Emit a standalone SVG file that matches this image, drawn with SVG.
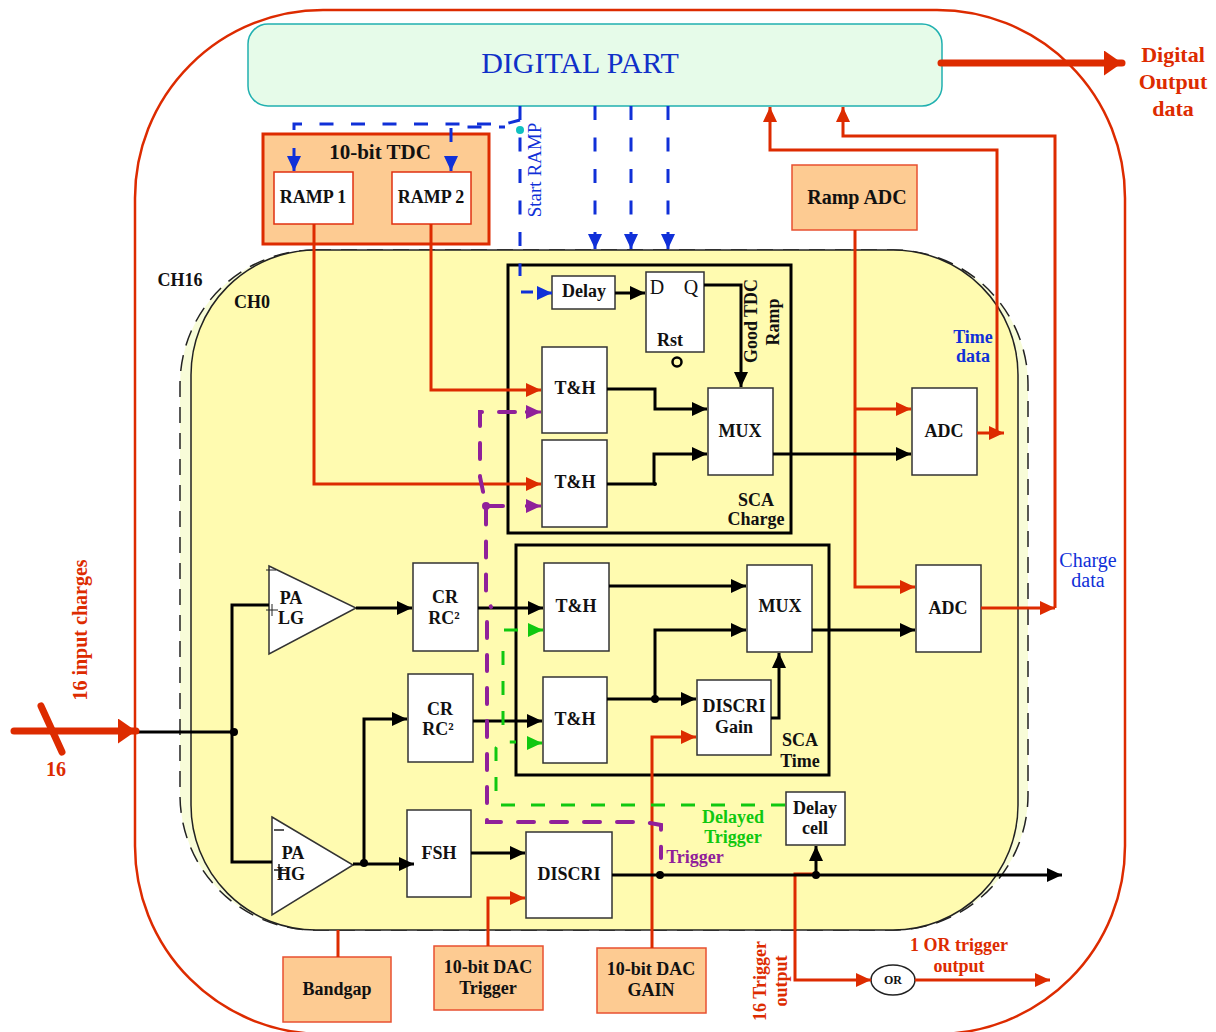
<svg xmlns="http://www.w3.org/2000/svg" width="1216" height="1032" viewBox="0 0 1216 1032">
<style>
text{font-family:"Liberation Serif","Times New Roman",serif;text-anchor:middle;fill:#111}
.b{font-weight:bold}
.n{font-size:18px;font-weight:bold}
.box{fill:#fff;stroke:#333;stroke-width:1.5}
.rbox{fill:#fff;stroke:#e03010;stroke-width:1.5}
.ora{fill:#fdcb92;stroke:#e85030;stroke-width:1.5}
.sca{fill:none;stroke:#000;stroke-width:3}
.c{fill:none;stroke-linejoin:miter}
.k{stroke:#000;stroke-width:3}
.r{stroke:#dd2b00;stroke-width:3}
.fat{stroke:#dd2b00;stroke-width:7;stroke-linecap:round}
.bl{stroke:#1030d8;stroke-width:3;stroke-dasharray:14 17.5}
.bh{stroke:#1030d8;stroke-width:3}
.p{stroke:#90209a;stroke-width:4;stroke-dasharray:16 17;stroke-linecap:round}
.ph{stroke:#90209a;stroke-width:3}
.g{stroke:#10c810;stroke-width:3;stroke-dasharray:14 16}
.gh{stroke:#10c810;stroke-width:3}
.tr{fill:#dd2b00}.tb{fill:#1030d8}.tp{fill:#90209a}.tg{fill:#10c810}
</style>
<defs>
<marker id="ak" markerUnits="userSpaceOnUse" markerWidth="16" markerHeight="16" refX="15" refY="7" orient="auto"><path d="M0 0L15 7L0 14Z" fill="#000"/></marker>
<marker id="ar" markerUnits="userSpaceOnUse" markerWidth="16" markerHeight="16" refX="15" refY="7" orient="auto"><path d="M0 0L15 7L0 14Z" fill="#dd2b00"/></marker>
<marker id="arl" markerUnits="userSpaceOnUse" markerWidth="20" markerHeight="26" refX="18" refY="12.5" orient="auto"><path d="M0 0L18 12.5L0 25Z" fill="#dd2b00"/></marker>
<marker id="ab" markerUnits="userSpaceOnUse" markerWidth="16" markerHeight="16" refX="15" refY="7" orient="auto"><path d="M0 0L15 7L0 14Z" fill="#1030d8"/></marker>
<marker id="ap" markerUnits="userSpaceOnUse" markerWidth="16" markerHeight="16" refX="15" refY="7" orient="auto"><path d="M0 0L15 7L0 14Z" fill="#90209a"/></marker>
<marker id="ag" markerUnits="userSpaceOnUse" markerWidth="16" markerHeight="16" refX="15" refY="7" orient="auto"><path d="M0 0L15 7L0 14Z" fill="#10c810"/></marker>
</defs>
<rect width="1216" height="1032" fill="#fff"/>
<g id="chip"><rect x="135" y="10" width="990" height="1024" rx="188" fill="none" stroke="#dd2b00" stroke-width="2.5"/></g>
<g id="ch16"><rect x="180" y="250" width="848" height="680" rx="135" fill="#f8fcd8" stroke="#222" stroke-width="1.5" stroke-dasharray="16 10"/></g>
<g id="ch0"><rect x="191" y="250" width="827" height="680" rx="125" fill="#fffbb0" stroke="#222" stroke-width="1.5"/></g>
<g id="digital"><rect x="248" y="24" width="694" height="82" rx="20" fill="#e6fbe9" stroke="#20b0b0" stroke-width="1.5"/><text x="580" y="73" font-size="30" style="fill:#1030c8">DIGITAL PART</text></g>
<g id="tdc"><rect x="263" y="134" width="226" height="110" fill="#fdcb92" stroke="#dd2b00" stroke-width="3"/><text x="380" y="159" font-size="21" class="b">10-bit TDC</text></g>
<g id="ramp1"><rect x="274" y="172" width="79" height="52" class="rbox"/><text x="313" y="203" class="n">RAMP 1</text></g>
<g id="ramp2"><rect x="392" y="172" width="79" height="52" class="rbox"/><text x="431" y="203" class="n">RAMP 2</text></g>
<g id="rampadc"><rect x="792" y="165" width="125" height="65" class="ora"/><text x="857" y="204" font-size="20" class="b">Ramp ADC</text></g>
<g id="scacharge"><rect x="508" y="265" width="283" height="268" class="sca"/><text x="756" y="506" class="n">SCA</text><text x="756" y="525" class="n">Charge</text></g>
<g id="scatime"><rect x="516" y="545" width="313" height="230" class="sca"/><text x="800" y="746" class="n">SCA</text><text x="800" y="767" class="n">Time</text></g>
<g id="delay"><rect x="552" y="276" width="63" height="33" class="box"/><text x="584" y="297" class="n">Delay</text></g>
<g id="dff"><rect x="646" y="272" width="58" height="80" class="box"/><text x="657" y="294" font-size="20">D</text><text x="691" y="294" font-size="20">Q</text><text x="670" y="346" class="n">Rst</text><circle cx="677" cy="362" r="4.5" fill="none" stroke="#000" stroke-width="2.5"/></g>
<g id="th1"><rect x="542" y="347" width="65" height="86" class="box"/><text x="575" y="394" class="n">T&amp;H</text></g>
<g id="th2"><rect x="542" y="440" width="65" height="87" class="box"/><text x="575" y="488" class="n">T&amp;H</text></g>
<g id="mux1"><rect x="708" y="388" width="65" height="87" class="box"/><text x="740" y="437" class="n">MUX</text></g>
<g id="adc1"><rect x="912" y="388" width="65" height="87" class="box"/><text x="944" y="437" class="n">ADC</text></g>
<g id="th3"><rect x="544" y="563" width="65" height="88" class="box"/><text x="576" y="612" class="n">T&amp;H</text></g>
<g id="th4"><rect x="543" y="677" width="64" height="86" class="box"/><text x="575" y="725" class="n">T&amp;H</text></g>
<g id="mux2"><rect x="747" y="565" width="65" height="87" class="box"/><text x="780" y="612" class="n">MUX</text></g>
<g id="adc2"><rect x="916" y="565" width="65" height="87" class="box"/><text x="948" y="614" class="n">ADC</text></g>
<g id="discrigain"><rect x="697" y="680" width="74" height="75" class="box"/><text x="734" y="712" class="n">DISCRI</text><text x="734" y="733" class="n">Gain</text></g>
<g id="crrc1"><rect x="413" y="563" width="65" height="88" class="box"/><text x="445" y="603" class="n">CR</text><text x="444" y="624" class="n">RC²</text></g>
<g id="crrc2"><rect x="408" y="674" width="65" height="88" class="box"/><text x="440" y="715" class="n">CR</text><text x="438" y="735" class="n">RC²</text></g>
<g id="palg"><path d="M269 566L356 608L269 654Z" class="box"/><path d="M266 570H276M266 610H278M272 604V616" stroke="#222" fill="none"/><text x="291" y="604" class="n">PA</text><text x="291" y="624" class="n">LG</text></g>
<g id="pahg"><path d="M272 817L353 865L272 915Z" class="box"/><path d="M274 830H284M274 870H286M279 864V878" stroke="#222" stroke-width="1.5" fill="none"/><text x="293" y="859" class="n">PA</text><text x="291" y="880" class="n">HG</text></g>
<g id="fsh"><rect x="407" y="810" width="64" height="87" class="box"/><text x="439" y="859" class="n">FSH</text></g>
<g id="discri"><rect x="526" y="832" width="86" height="86" class="box"/><text x="569" y="880" class="n">DISCRI</text></g>
<g id="delaycell"><rect x="786" y="792" width="59" height="53" class="box"/><text x="815" y="814" class="n">Delay</text><text x="815" y="834" class="n">cell</text></g>
<g id="bandgap"><rect x="283" y="957" width="108" height="65" class="ora"/><text x="337" y="995" class="n">Bandgap</text></g>
<g id="dactrig"><rect x="434" y="946" width="109" height="64" class="ora"/><text x="488" y="973" class="n">10-bit DAC</text><text x="488" y="994" class="n">Trigger</text></g>
<g id="dacgain"><rect x="597" y="948" width="109" height="65" class="ora"/><text x="651" y="975" class="n">10-bit DAC</text><text x="651" y="996" class="n">GAIN</text></g>
<g id="or"><ellipse cx="893" cy="980" rx="22" ry="15" fill="#fff" stroke="#222" stroke-width="1.5"/><text x="893" y="984" font-size="12" class="b">OR</text></g>
<g id="connectors">
<g class="c">
<path class="bl" d="M294 130V124H505L520 120"/>
<path class="bl" d="M451 142V127H505"/>
<path class="bl" d="M520 106V276"/>
<path class="bh" d="M294 148V171" marker-end="url(#ab)"/>
<path class="bh" d="M451 156V171" marker-end="url(#ab)"/>
<path class="bh" d="M521 292H533"/>
<path class="bh" d="M537 293H552" marker-end="url(#ab)"/>
<path class="bl" d="M595 106V215"/><path class="bl" d="M631 106V215"/><path class="bl" d="M668 106V215"/>
<path class="bh" d="M595 232V249" marker-end="url(#ab)"/>
<path class="bh" d="M631 232V249" marker-end="url(#ab)"/>
<path class="bh" d="M668 232V249" marker-end="url(#ab)"/>
<path class="fat" d="M941 63H1122" marker-end="url(#arl)"/>
<path class="r" d="M314 224V484H541" marker-end="url(#ar)"/>
<path class="r" d="M431 224V390H541" marker-end="url(#ar)"/>
<path class="r" d="M855 230V587H915" marker-end="url(#ar)"/>
<path class="r" d="M855 409H911" marker-end="url(#ar)"/>
<path class="r" d="M977 433H1004" marker-end="url(#ar)"/>
<path class="r" d="M997 433V150H770V107" marker-end="url(#ar)"/>
<path class="r" d="M981 608H1055" marker-end="url(#ar)"/>
<path class="r" d="M1055 608V136H843V107" marker-end="url(#ar)"/>
<path class="r" d="M488 946V898H525" marker-end="url(#ar)"/>
<path class="r" d="M652 948V737H696" marker-end="url(#ar)"/>
<path class="r" d="M816 874H795V980H871" marker-end="url(#ar)"/>
<path class="r" d="M915 980H1050" marker-end="url(#ar)"/>
<path class="r" d="M338 930V957"/>
<path class="k" d="M607 389H655V409H707" marker-end="url(#ak)"/>
<path class="k" d="M607 484H654V454H707" marker-end="url(#ak)"/>
<path class="k" d="M615 293H645" marker-end="url(#ak)"/>
<path class="k" d="M704 285H741V387" marker-end="url(#ak)"/>
<path class="k" d="M773 454H911" marker-end="url(#ak)"/>
<path class="k" d="M609 586H746" marker-end="url(#ak)"/>
<path class="k" d="M655 699V630H746" marker-end="url(#ak)"/>
<path class="k" d="M607 699H696" marker-end="url(#ak)"/>
<path class="k" d="M771 718H779V653" marker-end="url(#ak)"/>
<path class="k" d="M812 630H915" marker-end="url(#ak)"/>
<path class="k" d="M478 608H543" marker-end="url(#ak)"/>
<path class="k" d="M473 721H542" marker-end="url(#ak)"/>
<path class="k" d="M356 608H412" marker-end="url(#ak)"/>
<path class="k" d="M364 863V719H407" marker-end="url(#ak)"/>
<path class="k" d="M353 864H414" marker-end="url(#ak)"/>
<path class="k" d="M471 853H525" marker-end="url(#ak)"/>
<path class="k" d="M612 875H1062" marker-end="url(#ak)"/>
<path class="k" d="M816 875V846" marker-end="url(#ak)"/>
<path class="k" d="M136 732H232"/>
<path class="k" d="M269 605H232V862H272"/>
<path class="fat" d="M14 731H136" marker-end="url(#arl)"/>
<path class="fat" d="M41 706L62 752"/>
<path class="p" d="M515 412H480V477L486 506V595L491 607"/>
<path class="p" d="M487 622V822H645L661 825V858"/>
<path class="p" d="M487 506H505"/>
<path class="ph" d="M525 412H541" marker-end="url(#ap)"/>
<path class="ph" d="M525 506H541" marker-end="url(#ap)"/>
<path class="g" d="M785 805H500"/>
<path class="g" d="M496 791V748L500 742H516"/>
<path class="g" d="M503 725V645"/>
<path class="gh" d="M504 630H518"/>
<path class="gh" d="M530 630H543" marker-end="url(#ag)"/>
<path class="gh" d="M530 743H542" marker-end="url(#ag)"/>
</g>
<circle cx="234" cy="732" r="4"/><circle cx="486" cy="506" r="4" class="tp"/><circle cx="520" cy="130" r="4" fill="#10c0c0"/>
<circle cx="655" cy="699" r="4"/><circle cx="364" cy="863" r="4"/><circle cx="660" cy="875" r="4"/><circle cx="816" cy="875" r="4"/><circle cx="655" cy="484" r="2"/>
</g>
<g id="labels">
<text x="1173" y="62" font-size="22" class="b" style="fill:#dd2b00">Digital</text>
<text x="1173" y="89" font-size="22" class="b" style="fill:#dd2b00">Output</text>
<text x="1173" y="116" font-size="22" class="b" style="fill:#dd2b00">data</text>
<text x="180" y="286" class="n">CH16</text><text x="252" y="308" class="n">CH0</text>
<text x="973" y="343" class="n" style="fill:#1030d8">Time</text><text x="973" y="362" class="n" style="fill:#1030d8">data</text>
<text x="1088" y="567" font-size="20" style="fill:#1030d8">Charge</text><text x="1088" y="587" font-size="20" style="fill:#1030d8">data</text>
<text transform="translate(541 170) rotate(-90)" font-size="19" style="fill:#1030d8">Start RAMP</text>
<text transform="translate(757 321) rotate(-90)" class="n">Good TDC</text>
<text transform="translate(779 322) rotate(-90)" class="n">Ramp</text>
<text transform="translate(87 630) rotate(-90)" font-size="20" class="b" style="fill:#dd2b00">16 input charges</text>
<text x="56" y="776" font-size="20" class="b" style="fill:#dd2b00">16</text>
<text x="733" y="823" class="n" style="fill:#10c810">Delayed</text><text x="733" y="843" class="n" style="fill:#10c810">Trigger</text>
<text x="695" y="863" class="n" style="fill:#90209a">Trigger</text>
<text transform="translate(766 981) rotate(-90)" class="n" style="fill:#dd2b00">16 Trigger</text>
<text transform="translate(787 981) rotate(-90)" class="n" style="fill:#dd2b00">output</text>
<text x="959" y="951" class="n" style="fill:#dd2b00">1 OR trigger</text><text x="959" y="972" class="n" style="fill:#dd2b00">output</text>
</g>
</svg>
